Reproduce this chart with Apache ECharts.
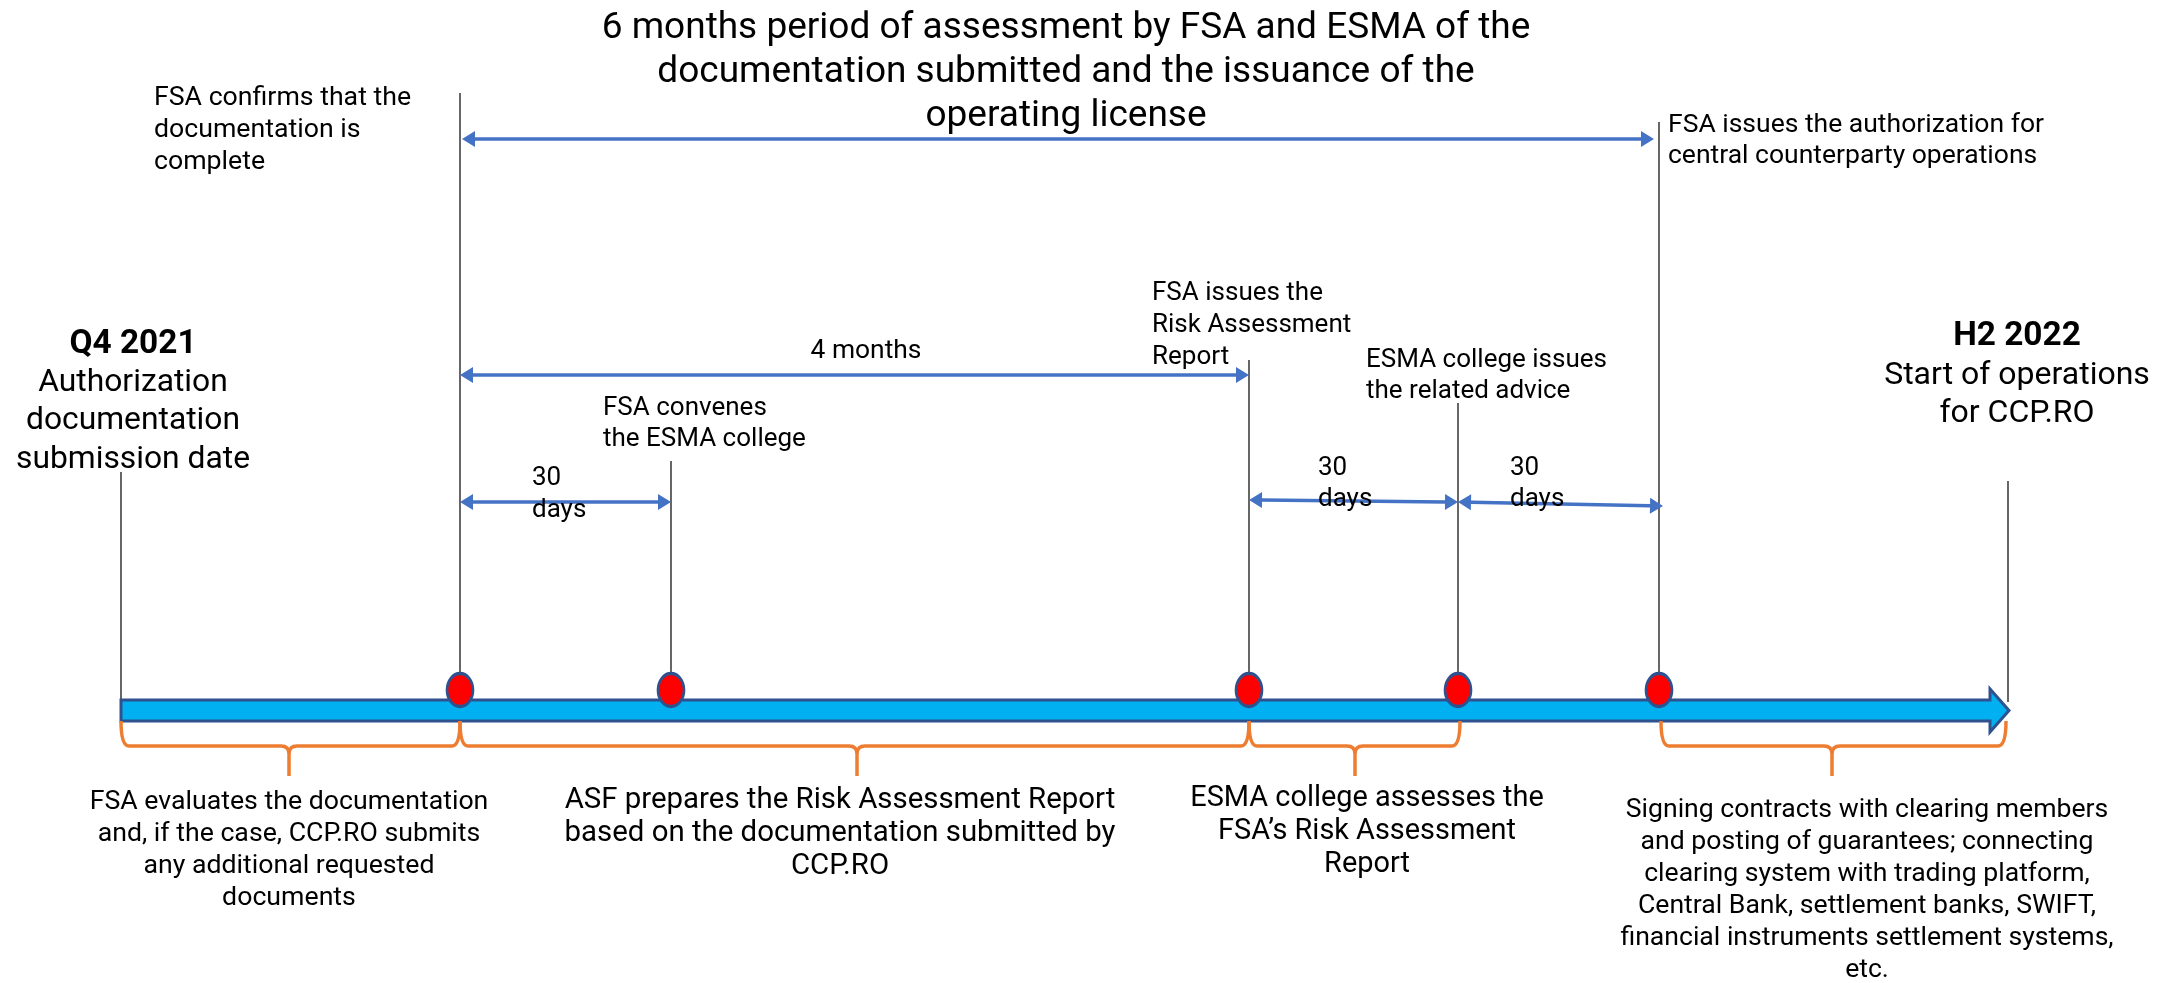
<!DOCTYPE html>
<html>
<head>
<meta charset="utf-8">
<script src="https://cdn.jsdelivr.net/npm/echarts@6/dist/echarts.min.js"></script>
<style>
  html, body { margin: 0; padding: 0; background: #fff; }
  #chart { width: 2164px; height: 983px; }
</style>
</head>
<body>
<div id="chart"></div>
<script>
// Timeline milestones, in the chart's own x units (0..2164)
const timelineRange = [121, 2009];
const eventX = [460, 671, 1249, 1458, 1659];

// vertical guide lines: x and top y
const guideX = [121, 460, 671, 1249, 1458, 1659, 2008];
const guideTop = [472, 93, 461, 360, 403, 122, 481];

// period arrows: from, to, y at start, y at end
const spanFrom = [462, 460, 460, 1249, 1458];
const spanTo = [1654, 1249, 671, 1458, 1663];
const spanY0 = [139, 375, 502, 500, 502];
const spanY1 = [139, 375, 502, 502, 506];

// orange braces under the bar: start, end, tip
const braceFrom = [121, 460, 1249, 1661];
const braceTo = [460, 1249, 1460, 2006];
const braceTip = [289, 857, 1355, 1832];

// texts
const labelTexts = [
  '6 months period of assessment by FSA and ESMA of the\ndocumentation submitted and the issuance of the\noperating license',
  'FSA confirms that the\ndocumentation is\ncomplete',
  'FSA issues the authorization for\ncentral counterparty operations',
  'FSA issues the\nRisk Assessment\nReport',
  'ESMA college issues\nthe related advice',
  '4 months',
  'FSA convenes\nthe ESMA college',
  '30\ndays',
  '30\ndays',
  '30\ndays',
  'Q4 2021',
  'Authorization\ndocumentation\nsubmission date',
  'H2 2022',
  'Start of operations\nfor CCP.RO',
  'FSA evaluates the documentation\nand, if the case, CCP.RO submits\nany additional requested\ndocuments',
  'ASF prepares the Risk Assessment Report\nbased on the documentation submitted by\nCCP.RO',
  'ESMA college assesses the\nFSA\u2019s Risk Assessment\nReport',
  'Signing contracts with clearing members\nand posting of guarantees; connecting\nclearing system with trading platform,\nCentral Bank, settlement banks, SWIFT,\nfinancial instruments settlement systems,\netc.'
];

const FONT = '"Roboto", "Noto Sans", sans-serif';

// where each text sits: anchor x, y of first line center, align, size, line height, weight
const labelLayout = [
  [1066, 29, 'center', 37, 44, 'normal'],
  [154, 98, 'left', 26.7, 32, 'normal'],
  [1668, 125, 'left', 26.5, 31, 'normal'],
  [1152, 293, 'left', 26, 32, 'normal'],
  [1366, 360, 'left', 26, 31, 'normal'],
  [866, 351, 'center', 26.4, 32, 'normal'],
  [603, 408, 'left', 26, 31, 'normal'],
  [532, 478, 'left', 26, 32, 'normal'],
  [1318, 468, 'left', 26, 31, 'normal'],
  [1510, 468, 'left', 26, 31, 'normal'],
  [133, 345, 'center', 33.4, 38, 'bold'],
  [133, 383, 'center', 31.8, 38.5, 'normal'],
  [2017, 337, 'center', 33.4, 38, 'bold'],
  [2017, 376, 'center', 32, 38, 'normal'],
  [289, 802, 'center', 26.7, 32, 'normal'],
  [840, 801, 'center', 29.4, 33, 'normal'],
  [1367, 799, 'center', 28.9, 33, 'normal'],
  [1867, 810, 'center', 26.6, 32, 'normal']
];

const BAR = { top: 700, bottom: 721, headTop: 689, headBottom: 732, headBase: 1990 };
const BRACE = { top: 721, mid: 746, tip: 776, r: 8 };
const DOT_Y = 690;
const GUIDE_BOTTOM = 702;

const chart = echarts.init(document.getElementById('chart'));

const option = {
  animation: false,
  backgroundColor: '#ffffff',
  grid: { left: 0, right: 0, top: 0, bottom: 0 },
  xAxis: { type: 'value', min: 0, max: 2164, show: false },
  yAxis: { type: 'value', min: 0, max: 983, inverse: true, show: false },
  series: [
    // guide lines
    {
      type: 'custom',
      data: guideX.map((x, i) => [x, guideTop[i]]),
      renderItem: (params, api) => {
        const p0 = api.coord([api.value(0), api.value(1)]);
        const p1 = api.coord([api.value(0), GUIDE_BOTTOM]);
        return {
          type: 'line',
          shape: { x1: p0[0], y1: p0[1], x2: p1[0], y2: p1[1] },
          style: { stroke: '#262626', lineWidth: 1.4 }
        };
      }
    },
    // the main timeline arrow
    {
      type: 'custom',
      data: [timelineRange],
      renderItem: (params, api) => {
        const x0 = api.value(0), x1 = api.value(1);
        const pts = [
          [x0, BAR.top], [BAR.headBase, BAR.top], [BAR.headBase, BAR.headTop],
          [x1, (BAR.top + BAR.bottom) / 2], [BAR.headBase, BAR.headBottom],
          [BAR.headBase, BAR.bottom], [x0, BAR.bottom]
        ].map(p => api.coord(p));
        return {
          type: 'polygon',
          shape: { points: pts },
          style: { fill: '#00B0F0', stroke: '#2F528F', lineWidth: 3, lineJoin: 'miter' }
        };
      }
    },
    // double headed period arrows
    {
      type: 'custom',
      data: spanFrom.map((x, i) => [x, spanTo[i], spanY0[i], spanY1[i]]),
      renderItem: (params, api) => {
        const a = api.coord([api.value(0), api.value(2)]);
        const b = api.coord([api.value(1), api.value(3)]);
        const len = 13, half = 8;
        const dx = b[0] - a[0], dy = b[1] - a[1];
        const d = Math.sqrt(dx * dx + dy * dy);
        const ux = dx / d, uy = dy / d;
        const head = (tip, dir) => {
          const bx = tip[0] - dir * ux * len, by = tip[1] - dir * uy * len;
          return {
            type: 'polygon',
            shape: { points: [tip, [bx - uy * half, by + ux * half], [bx + uy * half, by - ux * half]] },
            style: { fill: '#4472C4' }
          };
        };
        return {
          type: 'group',
          children: [
            {
              type: 'line',
              shape: { x1: a[0] + ux * len, y1: a[1] + uy * len, x2: b[0] - ux * len, y2: b[1] - uy * len },
              style: { stroke: '#4472C4', lineWidth: 3.5 }
            },
            head(a, -1),
            head(b, 1)
          ]
        };
      }
    },
    // events
    {
      type: 'scatter',
      data: eventX.map(x => [x, DOT_Y]),
      symbol: 'circle',
      symbolSize: [26, 33],
      itemStyle: { color: '#FF0000', borderColor: '#2F528F', borderWidth: 3, opacity: 1 },
      z: 5
    },
    // braces
    {
      type: 'custom',
      data: braceFrom.map((x, i) => [x, braceTo[i], braceTip[i]]),
      renderItem: (params, api) => {
        const r = BRACE.r;
        const s = api.coord([api.value(0), BRACE.top]);
        const e = api.coord([api.value(1), BRACE.top]);
        const t = api.coord([api.value(2), BRACE.tip]);
        const ym = api.coord([0, BRACE.mid])[1];
        const path = [
          'M', s[0], s[1],
          'Q', s[0], ym, s[0] + r, ym,
          'L', t[0] - r, ym,
          'Q', t[0], ym, t[0], ym + r,
          'L', t[0], t[1],
          'M', t[0], ym + r,
          'Q', t[0], ym, t[0] + r, ym,
          'L', e[0] - r, ym,
          'Q', e[0], ym, e[0], e[1]
        ].join(' ');
        return {
          type: 'path',
          shape: { pathData: path },
          style: { fill: 'none', stroke: '#ED7D31', lineWidth: 3.5 }
        };
      }
    },
    // texts
    {
      type: 'custom',
      data: labelLayout.map((l, i) => [l[0], l[1], i]),
      renderItem: (params, api) => {
        const i = api.value(2);
        const l = labelLayout[i];
        const p = api.coord([api.value(0), api.value(1)]);
        return {
          type: 'text',
          x: p[0],
          y: p[1] - l[4] / 2,
          style: {
            text: labelTexts[i],
            fill: '#000000',
            font: l[5] + ' ' + l[3] + 'px ' + FONT,
            lineHeight: l[4],
            align: l[2],
            verticalAlign: 'top'
          }
        };
      },
      z: 10
    }
  ]
};

chart.setOption(option);
</script>
</body>
</html>
